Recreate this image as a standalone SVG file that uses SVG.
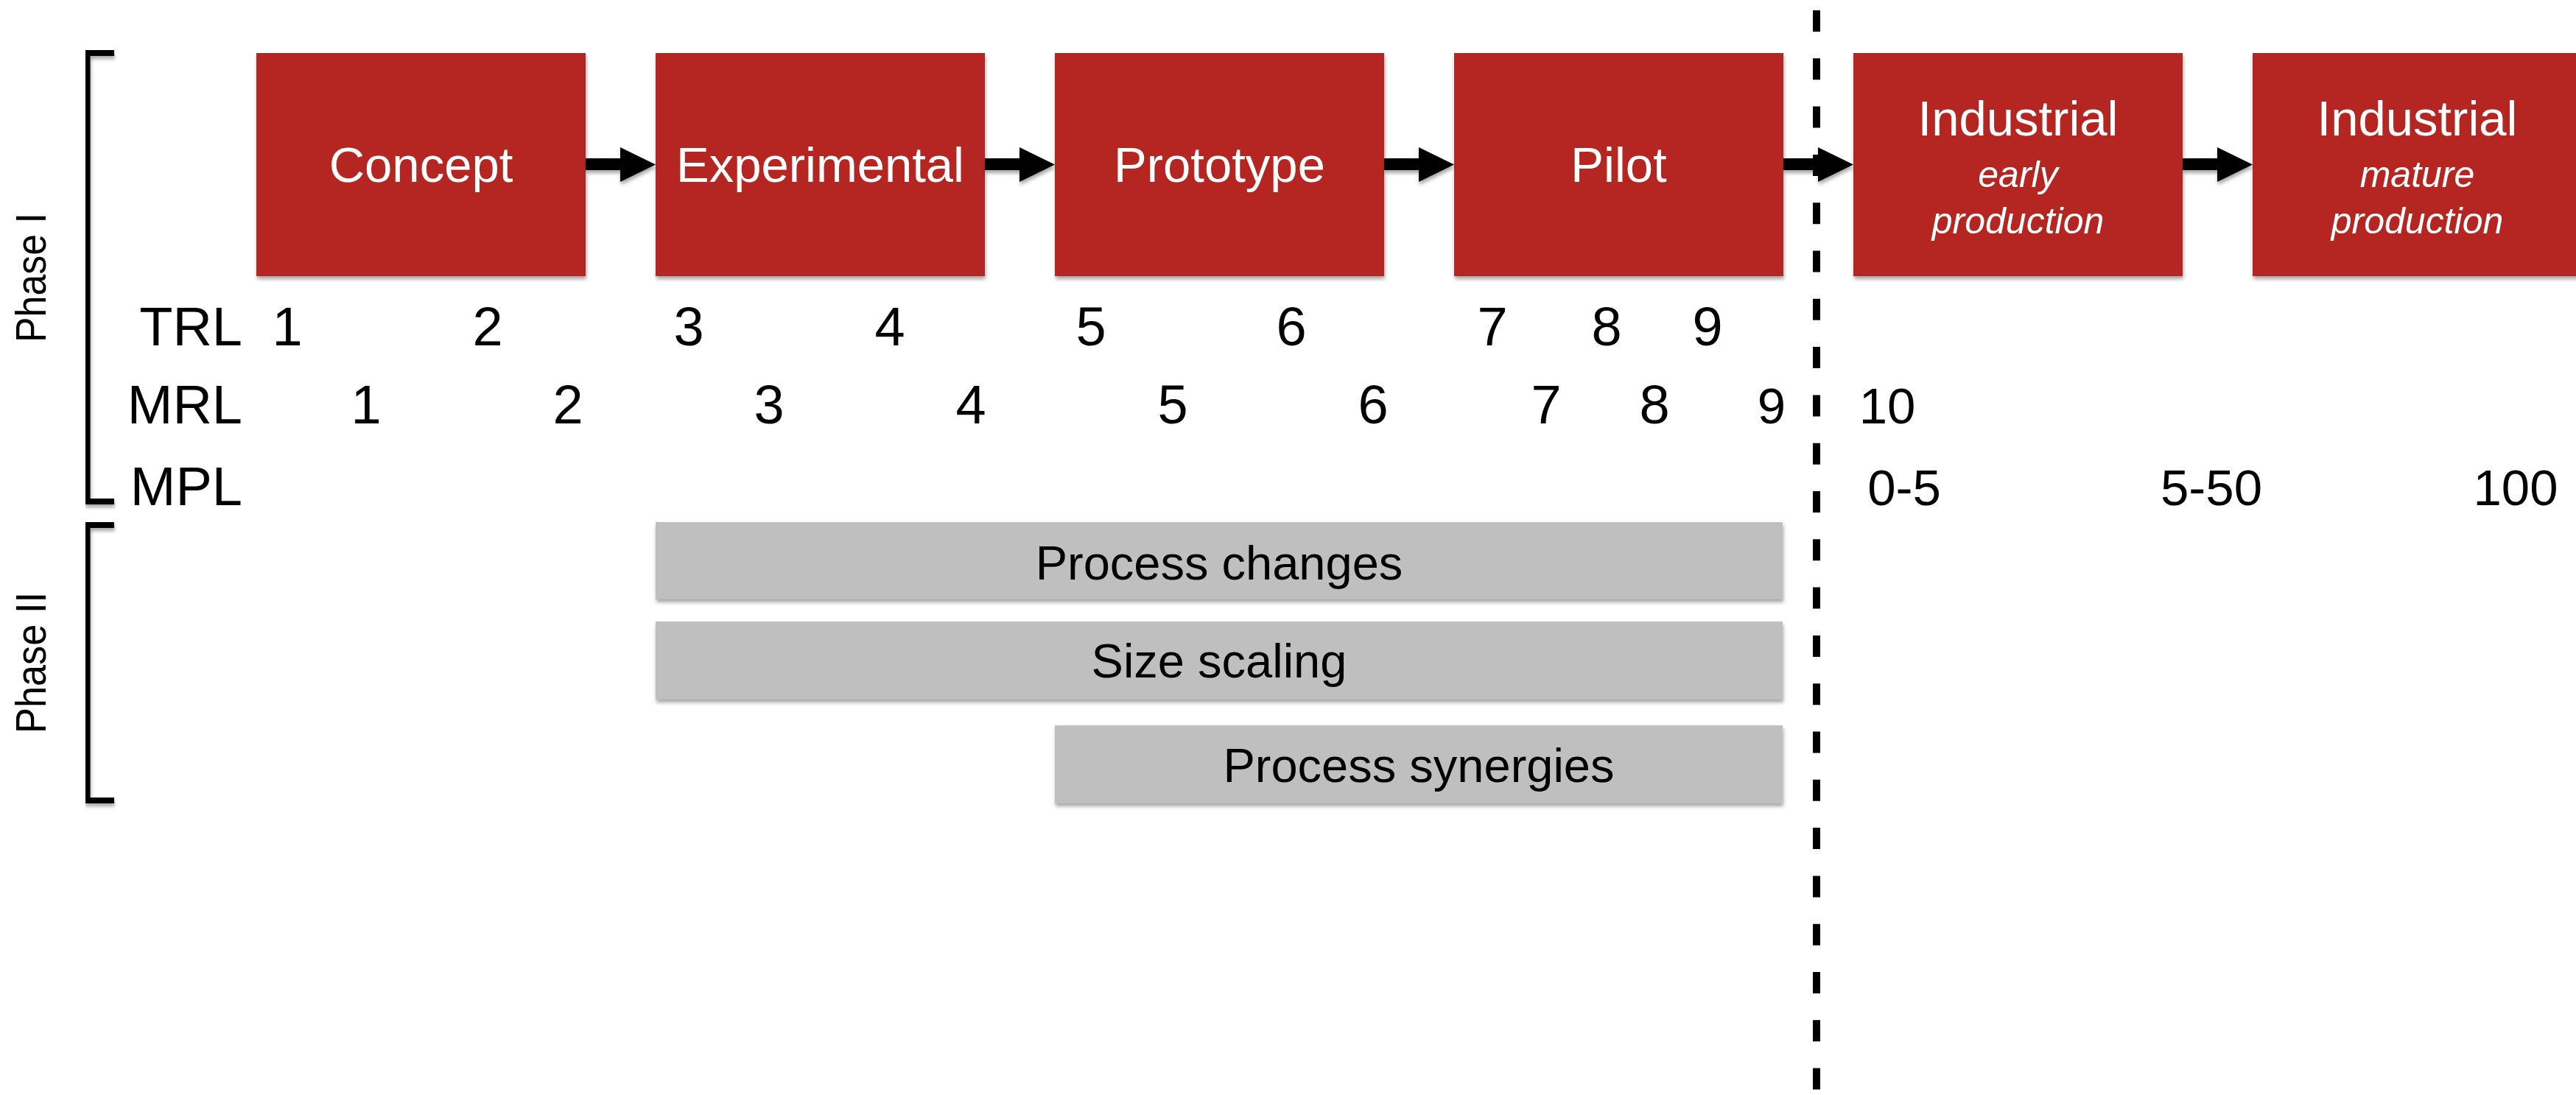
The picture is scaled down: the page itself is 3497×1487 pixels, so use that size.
<svg xmlns="http://www.w3.org/2000/svg" width="3497" height="1487" viewBox="0 0 3497 1487">
<style>
.box{fill:#B52824;}
.bar{fill:#BFBFBF;}
.bt{font-family:"Liberation Sans",Arial,sans-serif;font-size:67px;fill:#FFFFFF;text-anchor:middle;}
.bi{font-family:"Liberation Sans",Arial,sans-serif;font-size:50px;font-style:italic;fill:#FFFFFF;text-anchor:middle;}
.lbl{font-family:"Liberation Sans",Arial,sans-serif;font-size:74px;fill:#000;text-anchor:end;}
.num{font-family:"Liberation Sans",Arial,sans-serif;font-size:74px;fill:#000;text-anchor:middle;}
.num2{font-family:"Liberation Sans",Arial,sans-serif;font-size:69px;fill:#000;text-anchor:middle;}
.gt{font-family:"Liberation Sans",Arial,sans-serif;font-size:65px;fill:#000;text-anchor:middle;}
.ph{font-family:"Liberation Sans",Arial,sans-serif;font-size:57px;fill:#000;text-anchor:middle;}
.arrow{fill:#000;}
.brk{fill:none;stroke:#000;stroke-width:8;}
</style>
<defs>
<filter id="sh" x="-5%" y="-5%" width="110%" height="120%">
<feDropShadow dx="1" dy="4" stdDeviation="2.5" flood-color="#000" flood-opacity="0.35"/>
</filter>
</defs>
<rect width="3497" height="1487" fill="#FFFFFF"/>

<g id="phase1" filter="url(#sh)">
<path class="brk" d="M155,72 H118.5 V681 H155"/>
</g>
<text class="ph" transform="translate(62,377) rotate(-90)" textLength="176" lengthAdjust="spacingAndGlyphs">Phase I</text>
<g id="phase2" filter="url(#sh)">
<path class="brk" d="M155,713 H118.5 V1087 H155"/>
</g>
<text class="ph" transform="translate(62,900) rotate(-90)" textLength="192" lengthAdjust="spacingAndGlyphs">Phase II</text>

<g id="concept">
<rect class="box" x="348" y="72" width="447" height="303" filter="url(#sh)"/>
<text class="bt" x="571.5" y="247">Concept</text>
</g>
<g id="experimental">
<rect class="box" x="890" y="72" width="447" height="303" filter="url(#sh)"/>
<text class="bt" x="1113.5" y="247">Experimental</text>
</g>
<g id="prototype">
<rect class="box" x="1432" y="72" width="447" height="303" filter="url(#sh)"/>
<text class="bt" x="1655.5" y="247">Prototype</text>
</g>
<g id="pilot">
<rect class="box" x="1974" y="72" width="447" height="303" filter="url(#sh)"/>
<text class="bt" x="2197.5" y="247">Pilot</text>
</g>
<g id="industrial-early">
<rect class="box" x="2516" y="72" width="447" height="303" filter="url(#sh)"/>
<text class="bt" x="2739.5" y="184">Industrial</text>
<text class="bi" x="2739.5" y="254">early</text>
<text class="bi" x="2739.5" y="317">production</text>
</g>
<g id="industrial-mature">
<rect class="box" x="3058" y="72" width="447" height="303" filter="url(#sh)"/>
<text class="bt" x="3281.5" y="184">Industrial</text>
<text class="bi" x="3281.5" y="254">mature</text>
<text class="bi" x="3281.5" y="317">production</text>
</g>

<g id="connectors" filter="url(#sh)">
<polygon class="arrow" points="795,215 842,215 842,200 890,223.5 842,247 842,231 795,231"/>
<polygon class="arrow" points="1337,215 1384,215 1384,200 1432,223.5 1384,247 1384,231 1337,231"/>
<polygon class="arrow" points="1879,215 1926,215 1926,200 1974,223.5 1926,247 1926,231 1879,231"/>
<polygon class="arrow" points="2421,215 2468,215 2468,200 2516,223.5 2468,247 2468,231 2421,231"/>
<polygon class="arrow" points="2963,215 3010,215 3010,200 3058,223.5 3010,247 3010,231 2963,231"/>
</g>

<g id="divider">
<line x1="2466" y1="14" x2="2466" y2="1487" stroke="#000" stroke-width="10" stroke-dasharray="29 36.3"/>
</g>

<g id="trl">
<text class="lbl" x="329" y="469">TRL</text>
<text class="num" x="390" y="469">1</text>
<text class="num" x="662" y="469">2</text>
<text class="num" x="935" y="469">3</text>
<text class="num" x="1208" y="469">4</text>
<text class="num" x="1481" y="469">5</text>
<text class="num" x="1753" y="469">6</text>
<text class="num" x="2026" y="469">7</text>
<text class="num" x="2181" y="469">8</text>
<text class="num" x="2318" y="469">9</text>
</g>
<g id="mrl">
<text class="lbl" x="329" y="575">MRL</text>
<text class="num" x="497" y="575">1</text>
<text class="num" x="771" y="575">2</text>
<text class="num" x="1044" y="575">3</text>
<text class="num" x="1318" y="575">4</text>
<text class="num" x="1592" y="575">5</text>
<text class="num" x="1864" y="575">6</text>
<text class="num" x="2099" y="575">7</text>
<text class="num" x="2246" y="575">8</text>
<text class="num2" x="2405" y="575">9</text>
<text class="num2" x="2562" y="575">10</text>
</g>
<g id="mpl">
<text class="lbl" x="329" y="686">MPL</text>
<text class="num2" x="2585" y="686">0-5</text>
<text class="num2" x="3002" y="686">5-50</text>
<text class="num2" x="3415" y="686">100</text>
</g>

<g id="process-changes">
<rect class="bar" x="890" y="709" width="1530" height="105" filter="url(#sh)"/>
<text class="gt" x="1655" y="787">Process changes</text>
</g>
<g id="size-scaling">
<rect class="bar" x="890" y="844" width="1530" height="106" filter="url(#sh)"/>
<text class="gt" x="1655" y="920">Size scaling</text>
</g>
<g id="process-synergies">
<rect class="bar" x="1432" y="985" width="988" height="106" filter="url(#sh)"/>
<text class="gt" x="1926" y="1062">Process synergies</text>
</g>
</svg>
